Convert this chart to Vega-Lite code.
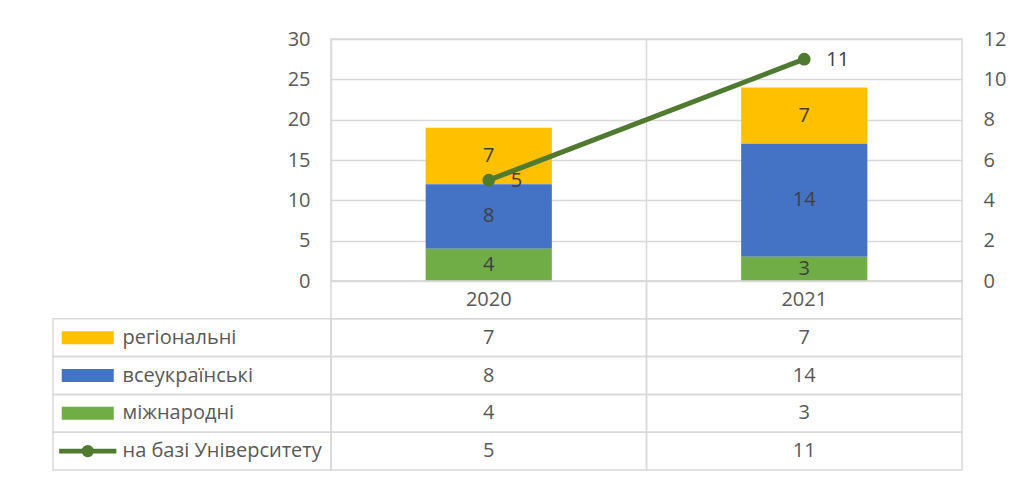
{
  "$schema": "https://vega.github.io/schema/vega-lite/v6.json",
  "padding": {"left": 52, "top": 28, "right": 5, "bottom": 5},
  "datasets": {
    "d": [
      {"year": "2020", "series": "регіональні", "value": 7},
      {"year": "2020", "series": "всеукраїнські", "value": 8},
      {"year": "2020", "series": "міжнародні", "value": 4},
      {"year": "2020", "series": "на базі Університету", "value": 5},
      {"year": "2021", "series": "регіональні", "value": 7},
      {"year": "2021", "series": "всеукраїнські", "value": 14},
      {"year": "2021", "series": "міжнародні", "value": 3},
      {"year": "2021", "series": "на базі Університету", "value": 11}
    ]
  },
  "columns": 2,
  "spacing": 0,
  "bounds": "flush",
  "align": "each",
  "concat": [
    {
      "width": 278, "height": 242,
      "data": {"values": [{}]},
      "mark": {"type": "text", "text": ""},
      "encoding": {}
    },
    {
      "width": 631, "height": 242,
      "view": {"stroke": "#D9D9D9", "strokeWidth": 1.5},
      "data": {"name": "d"},
      "layer": [
        {
          "transform": [
            {"filter": "datum.series != 'на базі Університету'"},
            {"calculate": "indexof(['міжнародні','всеукраїнські','регіональні'], datum.series)", "as": "k"}
          ],
          "layer": [
            {
              "mark": {"type": "bar", "width": {"band": 0.4}},
              "encoding": {
                "x": {"field": "year", "type": "nominal", "scale": {"paddingInner": 0, "paddingOuter": 0},
                  "axis": {"labels": false, "ticks": false, "domain": false, "grid": true, "gridColor": "#D9D9D9", "gridWidth": 1.5, "bandPosition": 0, "title": null}},
                "y": {"field": "value", "type": "quantitative", "stack": "zero", "scale": {"domain": [0, 30], "nice": false},
                  "axis": {"values": [0, 5, 10, 15, 20, 25, 30], "grid": true, "gridColor": "#D9D9D9", "gridWidth": 1.5, "labelPadding": 21, "title": null}},
                "color": {"field": "series", "type": "nominal",
                  "scale": {"domain": ["регіональні", "всеукраїнські", "міжнародні", "на базі Університету"], "range": ["#FFC000", "#4472C4", "#70AD47", "#507A30"]},
                  "legend": null},
                "order": {"field": "k", "type": "quantitative"}
              }
            },
            {
              "transform": [
                {"stack": "value", "groupby": ["year"], "sort": [{"field": "k"}], "as": ["y0", "y1"]},
                {"calculate": "(datum.y0 + datum.y1) / 2", "as": "mid"}
              ],
              "mark": {"type": "text", "fontSize": 20, "color": "#404040", "baseline": "middle"},
              "encoding": {
                "x": {"field": "year", "type": "nominal"},
                "y": {"field": "mid", "type": "quantitative"},
                "text": {"field": "value"}
              }
            }
          ]
        },
        {
          "transform": [{"filter": "datum.series == 'на базі Університету'"}],
          "layer": [
            {
              "mark": {"type": "line", "color": "#507A30", "strokeWidth": 5},
              "encoding": {
                "x": {"field": "year", "type": "nominal"},
                "y": {"field": "value", "type": "quantitative", "scale": {"domain": [0, 12], "nice": false},
                  "axis": {"orient": "right", "values": [0, 2, 4, 6, 8, 10, 12], "grid": false, "labelPadding": 21, "title": null}}
              }
            },
            {
              "mark": {"type": "point", "filled": true, "color": "#507A30", "size": 160, "opacity": 1},
              "encoding": {
                "x": {"field": "year", "type": "nominal"},
                "y": {"field": "value", "type": "quantitative"}
              }
            },
            {
              "mark": {"type": "text", "fontSize": 20, "color": "#404040", "align": "left", "baseline": "middle", "dx": 22, "dy": 1},
              "encoding": {
                "x": {"field": "year", "type": "nominal"},
                "y": {"field": "value", "type": "quantitative"},
                "text": {"field": "value"}
              }
            }
          ]
        }
      ],
      "resolve": {"scale": {"y": "independent"}}
    },
    {
      "width": 278, "height": 189,
      "data": {"name": "d"},
      "transform": [{"filter": "datum.year == '2020'"}],
      "encoding": {
        "y": {"field": "series", "type": "nominal",
          "scale": {"domain": ["header", "регіональні", "всеукраїнські", "міжнародні", "на базі Університету"], "paddingInner": 0, "paddingOuter": 0},
          "axis": null}
      },
      "layer": [
        {
          "mark": {"type": "rect", "fill": "white", "fillOpacity": 0, "stroke": "#D9D9D9", "strokeWidth": 1.5},
          "encoding": {
            "x": {"value": 0},
            "x2": {"value": "width"}
          }
        },
        {
          "transform": [{"filter": "datum.series != 'на базі Університету'"}],
          "mark": {"type": "point", "filled": true, "opacity": 1, "size": 2704, "shape": "M-1,-0.25H1V0.25H-1Z"},
          "encoding": {
            "x": {"datum": "key", "type": "nominal",
              "scale": {"type": "band", "domain": ["key", "label"], "paddingInner": 0, "paddingOuter": 1.14, "align": 0}, "axis": null},
            "color": {"field": "series", "type": "nominal",
              "scale": {"domain": ["регіональні", "всеукраїнські", "міжнародні", "на базі Університету"], "range": ["#FFC000", "#4472C4", "#70AD47", "#507A30"]},
              "legend": null}
          }
        },
        {
          "transform": [{"filter": "datum.series == 'на базі Університету'"}],
          "mark": {"type": "point", "filled": true, "opacity": 1, "color": "#507A30", "size": 2704, "shape": "M-1.1,-0.09H1.1V0.09H-1.1Z"},
          "encoding": {"x": {"datum": "key", "type": "nominal"}}
        },
        {
          "transform": [{"filter": "datum.series == 'на базі Університету'"}],
          "mark": {"type": "point", "filled": true, "opacity": 1, "color": "#507A30", "size": 150, "shape": "circle"},
          "encoding": {"x": {"datum": "key", "type": "nominal"}}
        },
        {
          "mark": {"type": "text", "fontSize": 20, "color": "#595959", "align": "left", "baseline": "middle"},
          "encoding": {
            "x": {"datum": "label", "type": "nominal", "bandPosition": 0},
            "text": {"field": "series"}
          }
        }
      ]
    },
    {
      "width": 631, "height": 189,
      "data": {"name": "d"},
      "encoding": {
        "x": {"field": "year", "type": "nominal", "scale": {"paddingInner": 0, "paddingOuter": 0}, "axis": null}
      },
      "layer": [
        {
          "mark": {"type": "rect", "fill": "white", "fillOpacity": 0, "stroke": "#D9D9D9", "strokeWidth": 1.5},
          "encoding": {
            "y": {"field": "series", "type": "nominal",
              "scale": {"domain": ["header", "регіональні", "всеукраїнські", "міжнародні", "на базі Університету"], "paddingInner": 0, "paddingOuter": 0},
              "axis": null}
          }
        },
        {
          "transform": [{"filter": "datum.series == 'регіональні'"}],
          "mark": {"type": "rect", "fill": "white", "fillOpacity": 0, "stroke": "#D9D9D9", "strokeWidth": 1.5},
          "encoding": {"y": {"datum": "header", "type": "nominal"}}
        },
        {
          "mark": {"type": "text", "fontSize": 20, "color": "#595959", "baseline": "middle"},
          "encoding": {
            "y": {"field": "series", "type": "nominal"},
            "text": {"field": "value"}
          }
        },
        {
          "transform": [{"filter": "datum.series == 'регіональні'"}],
          "mark": {"type": "text", "fontSize": 20, "color": "#595959", "baseline": "middle"},
          "encoding": {
            "y": {"datum": "header", "type": "nominal"},
            "text": {"field": "year"}
          }
        }
      ]
    }
  ],
  "config": {
    "view": {"stroke": null},
    "font": "Open Sans",
    "axis": {"labelFont": "Open Sans", "labelFontSize": 20, "labelColor": "#595959", "domain": false, "ticks": false}
  }
}
